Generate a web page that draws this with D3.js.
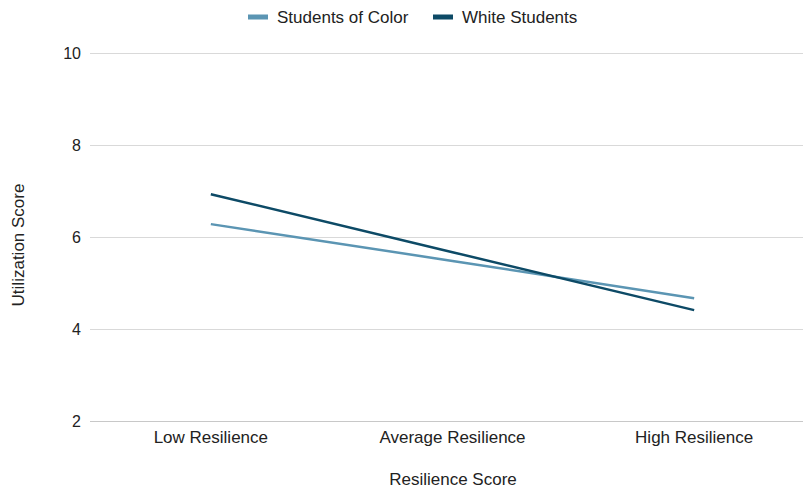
<!DOCTYPE html>
<html>
<head>
<meta charset="utf-8">
<script src="https://cdn.jsdelivr.net/npm/d3@7/dist/d3.min.js"></script>
<style>
  html, body { margin: 0; padding: 0; background: #fff; }
  svg text { font-family: "Liberation Sans", Arial, sans-serif; fill: #222; }
</style>
</head>
<body>
<svg id="chart" width="803" height="489"></svg>
<script>
const categories = ["Low Resilience", "Average Resilience", "High Resilience"];
const seriesNames = ["Students of Color", "White Students"];
const studentsOfColor = [6.28, 5.48, 4.67];
const whiteStudents = [6.93, 5.67, 4.41];
const yTicks = [2, 4, 6, 8, 10];
const colors = ["#5b95b3", "#0d4a66"];

const svg = d3.select("#chart");
const plot = { left: 90, right: 803, top: 53, bottom: 421 };

const x = d3.scaleBand().domain(categories).range([90, 815]);
const y = d3.scaleLinear().domain([2, 10]).range([plot.bottom, plot.top]);

// horizontal gridlines
svg.append("g").selectAll("line").data(yTicks).join("line")
  .attr("x1", plot.left).attr("x2", plot.right)
  .attr("y1", d => y(d) + 0.5).attr("y2", d => y(d) + 0.5)
  .attr("stroke", d => d === 2 ? "#c8c8c8" : "#d9d9d9")
  .attr("stroke-width", 1);

// y tick labels
svg.append("g").selectAll("text").data(yTicks).join("text")
  .attr("x", 81).attr("y", d => y(d))
  .attr("dy", "0.35em").attr("text-anchor", "end")
  .attr("font-size", 16).text(d => d);

// x category labels
svg.append("g").selectAll("text").data(categories).join("text")
  .attr("x", d => x(d) + x.bandwidth() / 2).attr("y", 443)
  .attr("text-anchor", "middle").attr("font-size", 17).text(d => d);

// axis titles
svg.append("text").attr("x", 453).attr("y", 485)
  .attr("text-anchor", "middle").attr("font-size", 17).text("Resilience Score");
svg.append("text")
  .attr("transform", "translate(24,245) rotate(-90)")
  .attr("text-anchor", "middle").attr("font-size", 17).text("Utilization Score");

// lines
const series = [studentsOfColor, whiteStudents];
const line = d3.line()
  .x((d, i) => x(categories[i]) + x.bandwidth() / 2)
  .y(d => y(d));
svg.append("g").selectAll("path").data(series).join("path")
  .attr("d", d => line(d))
  .attr("fill", "none")
  .attr("stroke", (d, i) => colors[i])
  .attr("stroke-width", 2.5);

// legend
const legendItems = [
  { name: seriesNames[0], color: colors[0], x: 248 },
  { name: seriesNames[1], color: colors[1], x: 433 }
];
const lg = svg.append("g").selectAll("g").data(legendItems).join("g")
  .attr("transform", d => `translate(${d.x},17)`);
lg.append("rect").attr("x", 0).attr("y", -2.5).attr("width", 20).attr("height", 5)
  .attr("fill", d => d.color);
lg.append("text").attr("x", 29).attr("y", 0).attr("dy", "0.35em")
  .attr("font-size", 17).text(d => d.name);
</script>
</body>
</html>
